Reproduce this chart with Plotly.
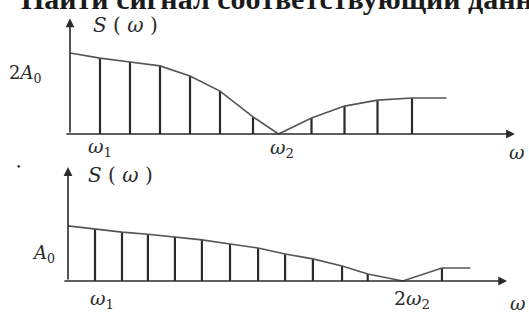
import plotly.graph_objects as go

# верхний спектр (единицы: w1 по оси, A0 по высоте)
top_freq = [1, 2, 3, 4, 5, 6.1, 6.95, 8.05, 9.15, 10.25, 11.4]
top_amp = [2.53, 2.4, 2.27, 1.93, 1.43, 0.57, 0.0, 0.53, 0.93, 1.13, 1.2]
top_env_x = [0, 1, 2, 3, 4, 5, 6.1, 6.95, 8.05, 9.15, 10.25, 11.4, 12.55]
top_env_y = [2.7, 2.53, 2.4, 2.27, 1.93, 1.43, 0.57, 0.0, 0.53, 0.93, 1.13, 1.2, 1.2]

# нижний спектр
bot_freq = [1, 2, 2.96, 3.96, 4.96, 6, 7.04, 8.04, 9.07, 10.15, 11.1, 12.4, 13.85]
bot_amp = [2.0, 1.88, 1.8, 1.7, 1.58, 1.42, 1.27, 1.04, 0.85, 0.58, 0.27, 0.0, 0.5]
bot_env_x = [0, 1, 2, 2.96, 3.96, 4.96, 6, 7.04, 8.04, 9.07, 10.15, 11.1, 12.4, 13.85, 14.9]
bot_env_y = [2.12, 2.0, 1.88, 1.8, 1.7, 1.58, 1.42, 1.27, 1.04, 0.85, 0.58, 0.27, 0.0, 0.5, 0.5]

INK = "#2b2b2b"
SERIF = "DejaVu Serif"


def stems(xs, ys):
    sx, sy = [], []
    for x, y in zip(xs, ys):
        sx += [x, x, None]
        sy += [0, y, None]
    return sx, sy


fig = go.Figure()

for xs, ys, ex, ey, xa, ya in [
    (top_freq, top_amp, top_env_x, top_env_y, "x", "y"),
    (bot_freq, bot_amp, bot_env_x, bot_env_y, "x2", "y2"),
]:
    sx, sy = stems(xs, ys)
    fig.add_trace(go.Scatter(x=sx, y=sy, mode="lines", line=dict(color=INK, width=2.2), xaxis=xa, yaxis=ya, hoverinfo="skip"))
    fig.add_trace(go.Scatter(x=ex, y=ey, mode="lines", line=dict(color="#555", width=1.6), xaxis=xa, yaxis=ya, hoverinfo="skip"))

ann = []


def arrow(x, y, ax, ay, xr, yr):
    ann.append(dict(x=x, y=y, ax=ax, ay=ay, xref=xr, yref=yr, axref=xr, ayref=yr, text="",
                    showarrow=True, arrowhead=2, arrowsize=1.1, arrowwidth=1.6, arrowcolor=INK))


def label(text, x, y, xr, yr, size=19):
    ann.append(dict(x=x, y=y, xref=xr, yref=yr, text=text, showarrow=False,
                    xanchor="center", yanchor="middle",
                    font=dict(family=SERIF, size=size, color=INK)))


# оси
arrow(0, 3.85, 0, 0, "x", "y")
arrow(14.83, 0, -0.17, 0, "x", "y")
arrow(0, 4.38, 0, 0, "x2", "y2")
arrow(16.26, 0, -0.19, 0, "x2", "y2")

# подписи
label("<i>S</i> ( <i>ω</i> )", 1.85, 3.63, "x", "y", 20)
label("2<i>A</i><sub>0</sub>", -1.5, 2.0, "x", "y", 18)
label("<i>ω</i><sub>1</sub>", 1.0, -0.45, "x", "y")
label("<i>ω</i><sub>2</sub>", 7.05, -0.5, "x", "y")
label("<i>ω</i>", 14.9, -0.6, "x", "y")

label("<i>S</i> ( <i>ω</i> )", 1.95, 4.08, "x2", "y2", 20)
label("<i>A</i><sub>0</sub>", -0.9, 1.05, "x2", "y2", 18)
label("<i>ω</i><sub>1</sub>", 1.25, -0.7, "x2", "y2")
label("2<i>ω</i><sub>2</sub>", 12.75, -0.7, "x2", "y2")
label("<i>ω</i>", 16.65, -0.85, "x2", "y2")

ann.append(dict(x=0.035, y=1 - 17 / 321, xref="paper", yref="paper", xanchor="left", yanchor="bottom",
                text="<b>Найти сигнал соответствующий данному</b>", showarrow=False,
                font=dict(family="Liberation Serif", size=30, color="#1a1a1a")))
ann.append(dict(x=18 / 529, y=1 - 167 / 321, xref="paper", yref="paper", xanchor="center", yanchor="middle",
                text="•", showarrow=False, font=dict(family=SERIF, size=9, color=INK)))

fig.update_layout(
    width=529, height=321,
    margin=dict(l=0, r=0, t=0, b=0),
    paper_bgcolor="white", plot_bgcolor="white",
    showlegend=False,
    annotations=ann,
    xaxis=dict(domain=[0, 1], range=[-70 / 30, 459 / 30], visible=False),
    yaxis=dict(domain=[0.5016, 1], range=[-26 / 30, 134 / 30], visible=False),
    xaxis2=dict(domain=[0, 1], range=[-68 / 27, 461 / 27], visible=False),
    yaxis2=dict(domain=[0, 0.5016], range=[-40 / 26, 121 / 26], visible=False),
)

# убрать отступ body по умолчанию и панель инструментов
fig.write_html("out.html", config={"displayModeBar": False},
               post_script="document.body.style.margin='0';")
